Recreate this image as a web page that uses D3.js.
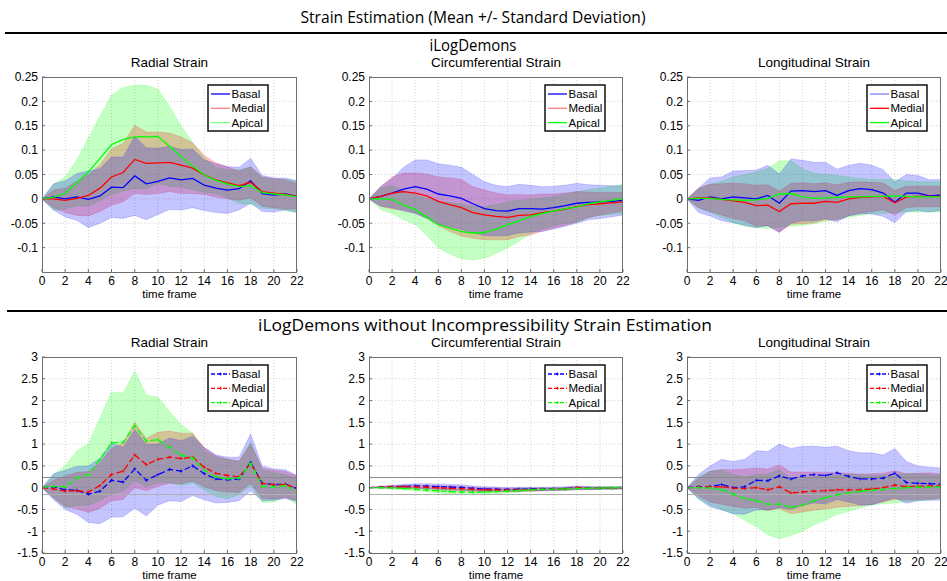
<!DOCTYPE html>
<html><head><meta charset="utf-8">
<script src="https://cdn.jsdelivr.net/npm/d3@7"></script>
<style>
body{margin:0;background:#fff;}
svg{display:block;}
text{font-family:"Liberation Sans",Arial,sans-serif;fill:#000;}
.hdr{font-family:"Open Sans","Noto Sans",sans-serif;}
</style></head><body>
<svg id="chart" width="947" height="581"></svg>
<script>
// ---------- data ----------
const frames = [0,1,2,3,4,5,6,7,8,9,10,11,12,13,14,15,16,17,18,19,20,21,22];
const xTicks = [0,2,4,6,8,10,12,14,16,18,20,22];
const yTicksTop = [-0.1,-0.05,0,0.05,0.1,0.15,0.2,0.25];
const yTickLabelsTop = ["-0.1","-0.05","0","0.05","0.1","0.15","0.2","0.25"];
const yTicksBottom = [-1.5,-1,-0.5,0,0.5,1,1.5,2,2.5,3];
const yTickLabelsBottom = ["-1.5","-1","-0.5","0","0.5","1","1.5","2","2.5","3"];
const yDomainTop = [-0.15, 0.25];
const yDomainBottom = [-1.5, 3];
const referenceLevels = [0.25, -0.15];
const regions = ["Basal","Medial","Apical"];
const panelTitles = ["Radial Strain","Circumferential Strain","Longitudinal Strain"];
const figureTitle = "Strain Estimation (Mean +/- Standard Deviation)";
const rowTitles = ["iLogDemons","iLogDemons without Incompressibility Strain Estimation"];
const xLabel = "time frame";

// iLogDemons - Radial
const radBasalMean  = [0,0.004,0,0.004,-0.001,0.006,0.024,0.023,0.047,0.031,0.036,0.043,0.039,0.042,0.028,0.022,0.018,0.021,0.037,0.011,0.008,0.010,0.005];
const radBasalSd    = [0,0.027,0.037,0.048,0.058,0.056,0.062,0.063,0.081,0.074,0.068,0.065,0.062,0.060,0.052,0.050,0.048,0.044,0.046,0.037,0.035,0.033,0.032];
const radMedialMean = [0,0,-0.003,0.001,0.007,0.022,0.045,0.054,0.081,0.073,0.074,0.075,0.069,0.063,0.049,0.039,0.033,0.027,0.034,0.015,0.012,0.009,0.005];
const radMedialSd   = [0,0.018,0.025,0.035,0.042,0.048,0.058,0.060,0.070,0.064,0.063,0.060,0.058,0.052,0.040,0.035,0.033,0.030,0.032,0.030,0.030,0.030,0.026];
const radApicalMean = [0,0.003,0.012,0.033,0.055,0.083,0.111,0.122,0.127,0.127,0.128,0.108,0.087,0.067,0.049,0.038,0.031,0.025,0.027,0.013,0.010,0.008,0.004];
const radApicalSd   = [0,0.027,0.033,0.047,0.070,0.087,0.102,0.106,0.106,0.106,0.097,0.082,0.063,0.048,0.036,0.027,0.029,0.035,0.038,0.032,0.030,0.032,0.033];
// iLogDemons - Circumferential
const cirBasalMean  = [0,0.005,0.012,0.020,0.025,0.020,0.010,0.006,0.001,-0.010,-0.020,-0.024,-0.025,-0.020,-0.020,-0.021,-0.018,-0.014,-0.009,-0.007,-0.006,-0.005,-0.003];
const cirBasalSd    = [0,0.020,0.030,0.045,0.055,0.060,0.062,0.063,0.064,0.060,0.055,0.052,0.050,0.050,0.048,0.046,0.044,0.042,0.041,0.036,0.034,0.032,0.030];
const cirMedialMean = [0,0.005,0.012,0.015,0.012,0.006,-0.005,-0.012,-0.018,-0.028,-0.033,-0.036,-0.038,-0.034,-0.033,-0.028,-0.025,-0.021,-0.016,-0.012,-0.010,-0.008,-0.006];
const cirMedialSd   = [0,0.020,0.033,0.038,0.041,0.045,0.050,0.055,0.058,0.053,0.051,0.048,0.046,0.043,0.041,0.038,0.035,0.033,0.031,0.026,0.023,0.021,0.019];
const cirApicalMean = [0,0,-0.001,-0.013,-0.022,-0.037,-0.053,-0.060,-0.067,-0.070,-0.069,-0.062,-0.053,-0.045,-0.036,-0.030,-0.025,-0.020,-0.017,-0.010,-0.006,-0.003,0];
const cirApicalSd   = [0,0.022,0.029,0.030,0.030,0.038,0.047,0.053,0.056,0.055,0.053,0.050,0.047,0.042,0.035,0.032,0.030,0.030,0.031,0.029,0.028,0.029,0.030];
// iLogDemons - Longitudinal
const lonBasalMean  = [0,-0.003,0.004,0,0.004,0.002,0,0.007,-0.009,0.016,0.017,0.015,0.017,0.007,0.017,0.021,0.019,0.012,-0.007,0.012,0.012,0.006,0.008];
const lonBasalSd    = [0,0.025,0.039,0.045,0.053,0.056,0.059,0.062,0.060,0.066,0.062,0.060,0.058,0.054,0.052,0.052,0.050,0.048,0.042,0.038,0.036,0.033,0.032];
const lonMedialMean = [0,0.002,0.002,-0.001,-0.004,-0.007,-0.014,-0.013,-0.026,-0.010,-0.009,-0.009,-0.005,-0.007,0,0.003,0.004,0.005,-0.008,0.004,0.005,0.005,0.005];
const lonMedialSd   = [0,0.020,0.028,0.032,0.036,0.038,0.042,0.042,0.042,0.042,0.042,0.040,0.038,0.036,0.034,0.032,0.030,0.028,0.025,0.022,0.021,0.021,0.021];
const lonApicalMean = [0,0.001,0.001,-0.001,-0.002,-0.003,-0.002,0.001,0.010,0.011,0.004,0.001,0.002,0.003,0.004,0.004,0.005,0.005,0.006,0.005,0.004,0.004,0.004];
const lonApicalSd   = [0,0.020,0.029,0.037,0.047,0.053,0.057,0.062,0.068,0.067,0.058,0.052,0.048,0.045,0.041,0.038,0.035,0.035,0.034,0.032,0.031,0.031,0.031];
// without incompressibility - Radial
const radNBasalMean  = [0,0.02,-0.05,-0.06,-0.15,-0.08,0.17,0.13,0.43,0.17,0.30,0.42,0.38,0.50,0.32,0.20,0.18,0.20,0.58,0.10,0.07,0.08,-0.02];
const radNBasalSd    = [0,0.30,0.45,0.55,0.65,0.75,0.85,0.80,0.90,0.82,0.70,0.72,0.70,0.68,0.60,0.55,0.52,0.50,0.65,0.40,0.36,0.33,0.30];
const radNMedialMean = [0,-0.03,-0.08,-0.07,-0.10,0.05,0.30,0.38,0.75,0.53,0.65,0.70,0.67,0.70,0.47,0.33,0.28,0.25,0.55,0.10,0.07,0.07,-0.01];
const radNMedialSd   = [0,0.20,0.35,0.42,0.47,0.52,0.60,0.65,0.75,0.60,0.62,0.60,0.58,0.55,0.45,0.40,0.38,0.36,0.45,0.35,0.33,0.30,0.28];
const radNApicalMean = [0,0.03,0.02,0.22,0.30,0.65,1.03,1.04,1.42,1.07,1.10,0.93,0.75,0.68,0.40,0.25,0.20,0.22,0.55,0.03,0.01,0.05,-0.10];
const radNApicalSd   = [0,0.27,0.48,0.63,0.70,0.95,1.17,1.13,1.26,1.05,0.98,0.82,0.70,0.57,0.45,0.45,0.45,0.38,0.50,0.37,0.34,0.25,0.30];
// without incompressibility - Circumferential
const cirNBasalMean  = [0,0.01,0.02,0.03,0.04,0.035,0.025,0.015,0.005,-0.015,-0.03,-0.035,-0.04,-0.035,-0.03,-0.03,-0.025,-0.02,-0.005,-0.01,-0.01,-0.008,-0.005];
const cirNBasalSd    = [0,0.02,0.03,0.04,0.05,0.055,0.06,0.06,0.06,0.055,0.05,0.05,0.045,0.045,0.04,0.04,0.04,0.04,0.045,0.035,0.03,0.03,0.03];
const cirNMedialMean = [0,0.01,0.02,0.02,0.015,0.01,-0.005,-0.015,-0.025,-0.04,-0.05,-0.055,-0.058,-0.05,-0.045,-0.04,-0.035,-0.03,0,-0.015,-0.012,-0.01,-0.008];
const cirNMedialSd   = [0,0.02,0.03,0.035,0.04,0.04,0.045,0.05,0.05,0.05,0.045,0.045,0.04,0.04,0.035,0.035,0.03,0.03,0.035,0.025,0.02,0.02,0.02];
const cirNApicalMean = [0,0,-0.005,-0.02,-0.035,-0.055,-0.075,-0.09,-0.10,-0.105,-0.10,-0.09,-0.08,-0.065,-0.05,-0.04,-0.035,-0.03,-0.02,-0.015,-0.01,-0.005,0];
const cirNApicalSd   = [0,0.02,0.03,0.03,0.035,0.04,0.045,0.05,0.055,0.055,0.05,0.045,0.045,0.04,0.035,0.03,0.03,0.03,0.03,0.03,0.03,0.03,0.03];
// without incompressibility - Longitudinal
const lonNBasalMean  = [0,0.02,0.03,0.07,0,0.02,0.17,0.16,0.27,0.20,0.27,0.30,0.28,0.34,0.26,0.20,0.20,0.22,0.33,0.12,0.10,0.09,0.08];
const lonNBasalSd    = [0,0.28,0.47,0.58,0.60,0.63,0.68,0.67,0.73,0.70,0.68,0.65,0.65,0.61,0.59,0.60,0.60,0.53,0.57,0.48,0.40,0.38,0.37];
const lonNMedialMean = [0,0.01,0.02,0.02,-0.01,-0.02,0,-0.05,0.02,-0.12,-0.10,-0.08,-0.07,-0.05,-0.05,-0.05,-0.03,0,0.06,0.02,0.03,0.04,0.04];
const lonNMedialSd   = [0,0.20,0.35,0.40,0.42,0.45,0.45,0.48,0.50,0.48,0.46,0.44,0.42,0.40,0.38,0.36,0.35,0.33,0.33,0.30,0.30,0.30,0.28];
const lonNApicalMean = [0,0,-0.01,-0.05,-0.15,-0.25,-0.30,-0.38,-0.38,-0.45,-0.40,-0.30,-0.23,-0.16,-0.12,-0.08,-0.06,-0.04,-0.02,0,0.01,0.01,0.02];
const lonNApicalSd   = [0,0.25,0.39,0.45,0.45,0.50,0.60,0.70,0.79,0.65,0.60,0.55,0.52,0.45,0.43,0.38,0.34,0.33,0.33,0.32,0.31,0.29,0.27];

// ---------- layout / style ----------
const colors = {Basal:"#0000ff", Medial:"#ff0000", Apical:"#00ff00"};
const fadedColors = {Basal:"#7f7fff", Medial:"#ff7f7f", Apical:"#7fff7f"};
const colX = [[42,297],[369,623],[687,941]];
const rowY = [[77,272],[357,553]];
const legendRight = [268,605,927];

const panels = [
  {row:0,col:0,mean:[radBasalMean,radMedialMean,radApicalMean],sd:[radBasalSd,radMedialSd,radApicalSd],legendFaded:[false,true,true]},
  {row:0,col:1,mean:[cirBasalMean,cirMedialMean,cirApicalMean],sd:[cirBasalSd,cirMedialSd,cirApicalSd],legendFaded:[false,true,false]},
  {row:0,col:2,mean:[lonBasalMean,lonMedialMean,lonApicalMean],sd:[lonBasalSd,lonMedialSd,lonApicalSd],legendFaded:[true,false,false]},
  {row:1,col:0,mean:[radNBasalMean,radNMedialMean,radNApicalMean],sd:[radNBasalSd,radNMedialSd,radNApicalSd],legendFaded:[false,false,false]},
  {row:1,col:1,mean:[cirNBasalMean,cirNMedialMean,cirNApicalMean],sd:[cirNBasalSd,cirNMedialSd,cirNApicalSd],legendFaded:[false,false,false]},
  {row:1,col:2,mean:[lonNBasalMean,lonNMedialMean,lonNApicalMean],sd:[lonNBasalSd,lonNMedialSd,lonNApicalSd],legendFaded:[false,false,false]}
];

const svg = d3.select("#chart");

// headers
svg.append("text").attr("class","hdr").attr("x",473).attr("y",23).attr("text-anchor","middle")
  .attr("font-size",17).attr("textLength",345).attr("lengthAdjust","spacingAndGlyphs").text(figureTitle);
svg.append("line").attr("x1",5).attr("x2",947).attr("y1",33).attr("y2",33).attr("stroke","#000").attr("stroke-width",2.2);
svg.append("text").attr("class","hdr").attr("x",473).attr("y",51).attr("text-anchor","middle")
  .attr("font-size",16.5).attr("textLength",87).attr("lengthAdjust","spacingAndGlyphs").text(rowTitles[0]);
svg.append("line").attr("x1",7).attr("x2",947).attr("y1",311).attr("y2",311).attr("stroke","#000").attr("stroke-width",2.2);
svg.append("text").attr("class","hdr").attr("x",485).attr("y",331).attr("text-anchor","middle")
  .attr("font-size",15.5).attr("textLength",454).attr("lengthAdjust","spacingAndGlyphs").text(rowTitles[1]);

panels.forEach((p,pi)=>{
  const [x0,x1] = colX[p.col];
  const [y0,y1] = rowY[p.row];
  const top = p.row===0;
  const x = d3.scaleLinear().domain([0,22]).range([x0,x1]);
  const y = d3.scaleLinear().domain(top?yDomainTop:yDomainBottom).range([y1,y0]);
  const yt = top?yTicksTop:yTicksBottom;
  const ytl = top?yTickLabelsTop:yTickLabelsBottom;
  const g = svg.append("g");
  const clipId = "clip"+pi;
  g.append("clipPath").attr("id",clipId).append("rect").attr("x",x0).attr("y",y0).attr("width",x1-x0).attr("height",y1-y0);

  // grid
  const grid = g.append("g").attr("stroke","#c8c8c8").attr("stroke-width",0.8).attr("stroke-dasharray","1,2");
  grid.selectAll(".gx").data(xTicks.filter(t=>t>0&&t<22)).join("line")
    .attr("x1",d=>x(d)).attr("x2",d=>x(d)).attr("y1",y0).attr("y2",y1);
  grid.selectAll(".gy").data(yt.filter(t=>t>y.domain()[0]&&t<y.domain()[1])).join("line")
    .attr("y1",d=>y(d)).attr("y2",d=>y(d)).attr("x1",x0).attr("x2",x1);

  // bands: apical, medial, basal order
  const area = d3.area().x((d,i)=>x(frames[i]));
  const plot = g.append("g").attr("clip-path",`url(#${clipId})`);
  [2,1,0].forEach(k=>{
    const m = p.mean[k], s = p.sd[k], c = colors[regions[k]];
    plot.append("path").datum(m)
      .attr("d", area.y0((d,i)=>y(d - s[i])).y1((d,i)=>y(d + s[i])))
      .attr("fill",c).attr("fill-opacity",0.23)
      .attr("stroke",c).attr("stroke-opacity",0.2).attr("stroke-width",0.8);
  });
  if(!top){
    plot.selectAll(".ref").data(referenceLevels).join("line")
      .attr("x1",x0).attr("x2",x1).attr("y1",d=>Math.round(y(d))+0.5).attr("y2",d=>Math.round(y(d))+0.5)
      .attr("stroke",(d,i)=>i===0?"#8a8a8a":"#b0b0b0").attr("stroke-width",1.2);
  }
  const line = d3.line().x((d,i)=>x(frames[i])).y(d=>y(d));
  [0,1,2].forEach(k=>{
    const c = colors[regions[k]];
    const path = plot.append("path").datum(p.mean[k]).attr("d",line)
      .attr("fill","none").attr("stroke",c).attr("stroke-width",1.3);
    if(!top){
      path.attr("stroke-dasharray","6,3");
      plot.append("g").selectAll("path").data(p.mean[k]).join("path")
        .attr("d",(d,i)=>{const cx=x(frames[i]),cy=y(d);return `M${cx-1.5},${cy}H${cx+1.5}M${cx},${cy-1.5}V${cy+1.5}`;})
        .attr("stroke",c).attr("stroke-width",0.9);
    }
  });

  // axes box
  g.append("rect").attr("x",x0+0.5).attr("y",y0+0.5).attr("width",x1-x0-1).attr("height",y1-y0)
    .attr("fill","none").attr("stroke","#6e6e6e").attr("stroke-width",1);
  // ticks (inward)
  g.append("g").selectAll("line").data(xTicks).join("line")
    .attr("x1",d=>x(d)).attr("x2",d=>x(d)).attr("y1",y1).attr("y2",y1-3).attr("stroke","#6e6e6e");
  g.append("g").selectAll("line").data(yt).join("line")
    .attr("x1",x0).attr("x2",x0+3).attr("y1",d=>y(d)).attr("y2",d=>y(d)).attr("stroke","#6e6e6e");
  // tick labels
  g.append("g").selectAll("text").data(xTicks).join("text")
    .attr("x",d=>x(d)).attr("y",y1+12.5).attr("text-anchor","middle").attr("font-size",12).text(d=>d);
  g.append("g").selectAll("text").data(yt).join("text")
    .attr("x",x0-4).attr("y",d=>y(d)).attr("dy","0.36em").attr("text-anchor","end").attr("font-size",12)
    .text((d,i)=>ytl[i]);
  g.append("text").attr("x",(x0+x1)/2).attr("y",y1+25.5).attr("text-anchor","middle").attr("font-size",11.5).text(xLabel);
  g.append("text").attr("x",(x0+x1)/2).attr("y",y0-10).attr("text-anchor","middle").attr("font-size",13.5).text(panelTitles[p.col]);

  // legend
  const lw = 60, lh = 46, lx = legendRight[p.col]-lw, ly = y0+8;
  const lg = g.append("g");
  lg.append("rect").attr("x",lx).attr("y",ly).attr("width",lw).attr("height",lh)
    .attr("fill","#fff").attr("stroke","#000").attr("stroke-width",1.4);
  regions.forEach((r,k)=>{
    const cy = ly + 9 + k*14.3;
    const col = p.legendFaded[k] ? fadedColors[r] : colors[r];
    const ln = lg.append("line").attr("x1",lx+3).attr("x2",lx+22).attr("y1",cy).attr("y2",cy)
      .attr("stroke",col).attr("stroke-width",1.3);
    if(!top){
      ln.attr("stroke-dasharray","4,2");
      lg.append("path").attr("d",`M${lx+11},${cy}h3M${lx+12.5},${cy-1.5}v3`).attr("stroke",col).attr("stroke-width",0.9);
    }
    lg.append("text").attr("x",lx+23.5).attr("y",cy).attr("dy","0.36em").attr("font-size",11.5).text(r);
  });
});
</script>
</body></html>
